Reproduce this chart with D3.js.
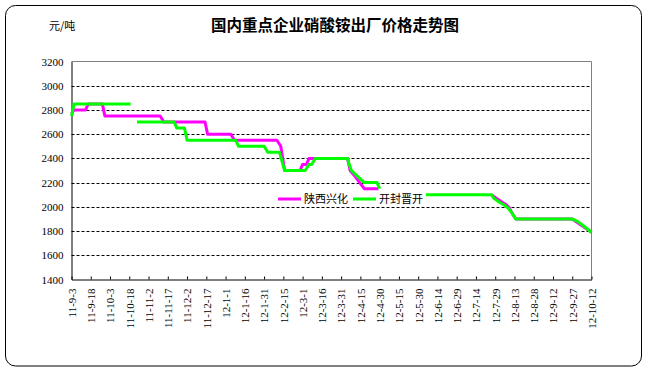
<!DOCTYPE html>
<html><head><meta charset="utf-8">
<script src="https://cdn.jsdelivr.net/npm/d3@7"></script>
<style>
html,body{margin:0;padding:0;background:#fff;}
svg{display:block;}
</style></head>
<body>
<svg id="c" width="650" height="372"></svg>
<script>
// ---- data ----
const titleText = "国内重点企业硝酸铵出厂价格走势图";
const unitText = "元/吨";
const seriesNames = ["陕西兴化", "开封晋开"];
const seriesColors = ["#FF00FF", "#00FF00"];
const yTicks = [1400, 1600, 1800, 2000, 2200, 2400, 2600, 2800, 3000, 3200];
const xTickLabels = ["11-9-3","11-9-18","11-10-3","11-10-18","11-11-2","11-11-17","11-12-2","11-12-17",
  "12-1-1","12-1-16","12-1-31","12-2-15","12-3-1","12-3-16","12-3-31","12-4-15","12-4-30","12-5-15",
  "12-5-30","12-6-14","12-6-29","12-7-14","12-7-29","12-8-13","12-8-28","12-9-12","12-9-27","12-10-12"];

// 陕西兴化 (null = no data)
const xingDates = ["2011-09-03","2011-09-05","2011-09-14","2011-09-16","2011-09-27","2011-09-29","2011-11-11","2011-11-14",
  "2011-12-16","2011-12-18","2012-01-05","2012-01-08","2012-02-10","2012-02-13","2012-02-16","2012-02-28","2012-03-01",
  "2012-03-04","2012-03-06","2012-04-05","2012-04-07","2012-04-11","2012-04-13","2012-04-18","2012-04-29","2012-05-20",
  "2012-07-26","2012-07-29","2012-08-02","2012-08-06","2012-08-09","2012-08-11","2012-08-14","2012-09-27","2012-10-12"];
const xingValues = [2770,2800,2800,2850,2850,2750,2750,2700,
  2700,2600,2600,2550,2550,2500,2300,2300,2350,
  2350,2400,2400,2300,2250,2220,2150,2150,null,
  2100,2078,2048,2022,1992,1950,1900,1900,1790];

// 开封晋开
const kaiDates = ["2011-09-03","2011-09-05","2011-10-19","2011-10-21","2011-10-24","2011-11-22","2011-11-24","2011-11-30",
  "2011-12-02","2012-01-09","2012-01-11","2012-01-31","2012-02-03","2012-02-12","2012-02-16","2012-03-03","2012-03-06",
  "2012-03-08","2012-03-11","2012-04-05","2012-04-06","2012-04-08","2012-04-12","2012-04-18","2012-04-28","2012-04-30",
  "2012-05-20","2012-06-05","2012-07-26","2012-07-28","2012-08-01","2012-08-05","2012-08-08","2012-08-11","2012-08-14",
  "2012-09-27","2012-10-01","2012-10-05","2012-10-09","2012-10-12"];
const kaiValues = [2750,2850,2850,null,2700,2700,2650,2650,
  2550,2550,2500,2500,2450,2450,2300,2300,2350,
  2350,2400,2400,2360,2300,2260,2200,2200,2150,
  null,2100,2100,2070,2040,2015,1990,1950,1900,
  1900,1880,1850,1815,1790];

// ---- drawing ----
const parseISO = d3.utcParse("%Y-%m-%d");
const parseTick = s => { const p = s.split("-").map(Number); return new Date(Date.UTC(2000 + p[0], p[1] - 1, p[2])); };
const tickDates = xTickLabels.map(parseTick);

const svg = d3.select("#c");
const L = 71.5, R = 591.5, T = 61.5, B = 279.5;

const x = d3.scaleUtc().domain([tickDates[0], tickDates[tickDates.length - 1]]).range([L, R]);
const y = d3.scaleLinear().domain([1400, 3200]).range([B, T]);

// outer frame
svg.append("rect").attr("x", 5.5).attr("y", 5.5).attr("width", 636).attr("height", 360.5)
  .attr("rx", 10).attr("ry", 10).attr("fill", "#fff").attr("stroke", "#000").attr("stroke-width", 1);

// title + unit
svg.append("text").attr("x", 335).attr("y", 31).attr("text-anchor", "middle")
  .attr("font-family", "'Noto Sans CJK SC', sans-serif").attr("font-weight", "bold").attr("font-size", 15.5)
  .attr("fill", "#000").text(titleText);
svg.append("text").attr("x", 49).attr("y", 30)
  .attr("font-family", "'Noto Sans CJK SC', sans-serif").attr("font-size", 11)
  .attr("fill", "#000").text(unitText);

// gridlines
svg.append("g").selectAll("line").data(yTicks.filter(v => v > 1400 && v < 3200)).join("line")
  .attr("x1", L).attr("x2", R).attr("y1", d => Math.round(y(d)) + 0.5).attr("y2", d => Math.round(y(d)) + 0.5)
  .attr("stroke", "#000").attr("stroke-width", 1).attr("stroke-dasharray", "3,2");

// plot border top/right (gray)
svg.append("path").attr("d", `M${L},${T}H${R}V${B}`).attr("fill", "none").attr("stroke", "#808080").attr("stroke-width", 1);

// y axis
const yAxis = svg.append("g").attr("transform", `translate(${L},0)`)
  .call(d3.axisLeft(y).tickValues(yTicks).tickSize(0).tickPadding(8).tickFormat(d3.format("d")));
yAxis.select(".domain").attr("stroke", "#000");
yAxis.selectAll("text").attr("font-family", "'Liberation Serif', serif").attr("font-size", 11).attr("fill", "#000");

// x axis
const xAxis = svg.append("g").attr("transform", `translate(0,${B})`)
  .call(d3.axisBottom(x).tickValues(tickDates).tickSizeInner(-3).tickSizeOuter(0)
    .tickFormat((d, i) => xTickLabels[i]));
xAxis.select(".domain").attr("stroke", "#000");
xAxis.selectAll(".tick line").attr("stroke", "#000");
xAxis.selectAll("text")
  .attr("font-family", "'Liberation Serif', serif").attr("font-size", 11).attr("fill", "#000")
  .attr("transform", "rotate(-90)").attr("text-anchor", "end")
  .attr("x", -9).attr("y", 0).attr("dy", "0.35em");

// lines
const line = d3.line().defined(d => d.v !== null).x(d => x(d.t)).y(d => y(d.v));
const series = [
  xingDates.map((d, i) => ({ t: parseISO(d), v: xingValues[i] })),
  kaiDates.map((d, i) => ({ t: parseISO(d), v: kaiValues[i] }))
];
series.forEach((s, i) => {
  svg.append("path").datum(s).attr("d", line).attr("fill", "none")
    .attr("stroke", seriesColors[i]).attr("stroke-width", 3).attr("stroke-linejoin", "round");
});

// legend
const lg = svg.append("g");
const legendX = [278, 353];
seriesNames.forEach((n, i) => {
  lg.append("line").attr("x1", legendX[i]).attr("x2", legendX[i] + 23).attr("y1", 199).attr("y2", 199)
    .attr("stroke", seriesColors[i]).attr("stroke-width", 3);
  lg.append("text").attr("x", legendX[i] + 26).attr("y", 203)
    .attr("font-family", "'Noto Sans CJK SC', sans-serif").attr("font-size", 11).attr("fill", "#000").text(n);
});
</script>
</body></html>
